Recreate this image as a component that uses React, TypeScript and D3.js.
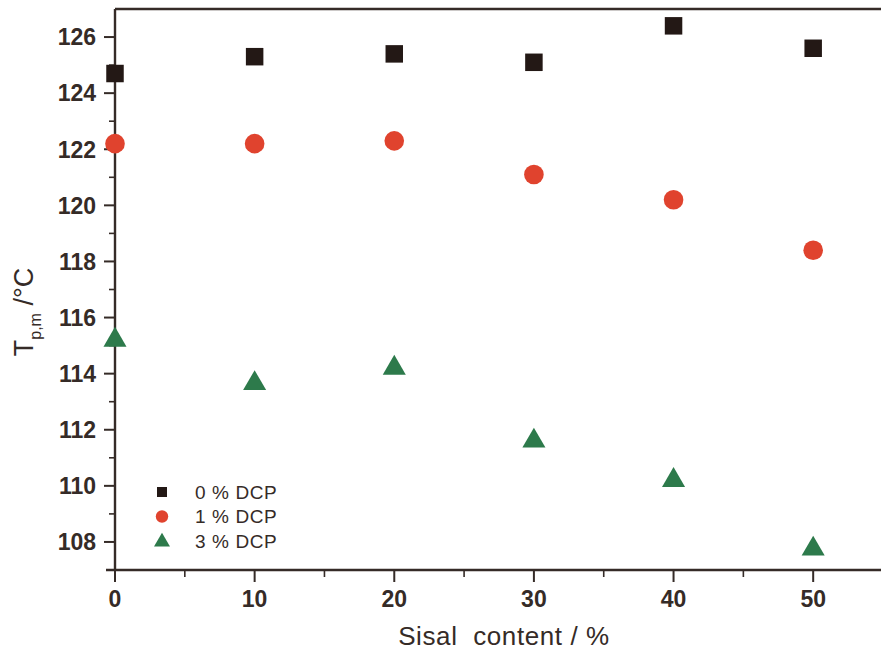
import React from "react";
import * as d3 from "d3";

const sisal = [0, 10, 20, 30, 40, 50];
const dcp0 = [124.7, 125.3, 125.4, 125.1, 126.4, 125.6];
const dcp1 = [122.2, 122.2, 122.3, 121.1, 120.2, 118.4];
const dcp3 = [115.2, 113.65, 114.2, 111.6, 110.2, 107.75];
const seriesNames = ["0 % DCP", "1 % DCP", "3 % DCP"];
const xTicks = [0, 10, 20, 30, 40, 50];
const yTicks = [108, 110, 112, 114, 116, 118, 120, 122, 124, 126];

const W = 881, H = 657;
const left = 115, top = 9, bottom = 570, right = 883;
const ink = "#352b27";
const colors = ["#231815", "#e0432e", "#2d7a4b"];

export default function App() {
  const x = d3.scaleLinear().domain([0, 55]).range([left, right]);
  const y = d3.scaleLinear().domain([107, 127]).range([bottom, top]);
  const sq = d3.symbol().type(d3.symbolSquare).size(17.5 * 17.5);
  const ci = d3.symbol().type(d3.symbolCircle).size(Math.PI * 9.8 * 9.8);
  const tr = d3.symbol().type(d3.symbolTriangle).size(230);
  const sqS = d3.symbol().type(d3.symbolSquare).size(10 * 10);
  const ciS = d3.symbol().type(d3.symbolCircle).size(Math.PI * 6.2 * 6.2);
  const trS = d3.symbol().type(d3.symbolTriangle).size(110);
  const series = [dcp0, dcp1, dcp3];
  const big = [sq(), ci(), tr()];
  const small = [sqS(), ciS(), trS()];
  const minorX = d3.range(5, 55, 10);
  const minorY = d3.range(107, 127, 2);
  const font = "Liberation Sans, Arial, sans-serif";
  return (
    <svg width={W} height={H} style={{ position: "absolute", left: 0, top: 0, background: "#fff" }} fontFamily={font}>
      <defs>
        <clipPath id="pc"><rect x={left - 12} y={top - 12} width={W - left + 12} height={bottom - top + 24} /></clipPath>
      </defs>
      {/* frame */}
      <line x1={left} x2={W} y1={top} y2={top} stroke={ink} strokeWidth={2.4} />
      <line x1={left} x2={left} y1={top} y2={bottom} stroke={ink} strokeWidth={2.4} />
      <line x1={left - 9} x2={W} y1={bottom} y2={bottom} stroke={ink} strokeWidth={2.4} />
      {/* y ticks */}
      {yTicks.map((t) => (
        <g key={"y" + t}>
          <line x1={left - 11} x2={left} y1={y(t)} y2={y(t)} stroke={ink} strokeWidth={2} />
          <text x={left - 19} y={y(t)} dy="0.36em" textAnchor="end" fontSize={23} fontWeight="bold" fill={ink}>{t}</text>
        </g>
      ))}
      {minorY.map((t) => (
        <line key={"my" + t} x1={left - 6} x2={left} y1={y(t)} y2={y(t)} stroke={ink} strokeWidth={1.6} />
      ))}
      {/* x ticks */}
      {xTicks.map((t) => (
        <g key={"x" + t}>
          <line x1={x(t)} x2={x(t)} y1={bottom} y2={bottom + 12} stroke={ink} strokeWidth={2} />
          <text x={x(t)} y={bottom + 37} textAnchor="middle" fontSize={23} fontWeight="bold" fill={ink}>{t}</text>
        </g>
      ))}
      {minorX.map((t) => (
        <line key={"mx" + t} x1={x(t)} x2={x(t)} y1={bottom} y2={bottom + 7} stroke={ink} strokeWidth={1.6} />
      ))}
      {/* data */}
      <g clipPath="url(#pc)">
        {series.map((s, si) =>
          s.map((v, i) => (
            <path key={si + "-" + i} d={big[si]} transform={`translate(${x(sisal[i])},${y(v)})`} fill={colors[si]} />
          ))
        )}
      </g>
      {/* legend */}
      {seriesNames.map((n, i) => (
        <g key={n} transform={`translate(0,${492 + i * 24.5})`}>
          <path d={small[i]} transform={`translate(162,${i === 2 ? 1 : 0})`} fill={colors[i]} />
          <text x={195} y={0} dy="0.36em" fontSize={19} letterSpacing={0.6} fill={ink}>{n}</text>
        </g>
      ))}
      {/* axis labels */}
      <text x={504} y={645} textAnchor="middle" fontSize={26} letterSpacing={0.6} fill={ink} style={{ whiteSpace: "pre" }}>Sisal  content / %</text>
      <text transform="translate(33,312) rotate(-90)" textAnchor="middle" fontSize={27} fill={ink} style={{ whiteSpace: "pre" }}>
        <tspan>T</tspan>
        <tspan fontSize={16} dy={8}>p,m</tspan>
        <tspan dy={-8}> /°C</tspan>
      </text>
    </svg>
  );
}
